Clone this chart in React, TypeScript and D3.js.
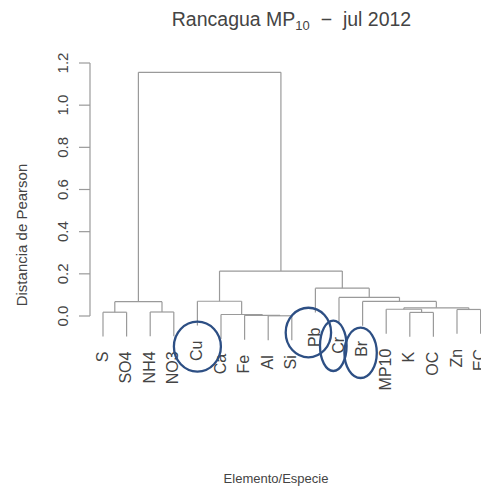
import React from "react";
import * as d3 from "d3";

// ---- data ----
const leafLabels = ["S", "SO4", "NH4", "NO3", "Cu", "Ca", "Fe", "Al", "Si", "Pb", "Cr", "Br", "MP10", "K", "OC", "Zn", "EC"];
// hclust-style merge matrix: negative = leaf (1-based), positive = earlier merge row (1-based)
const mergeLeft = [-8, -7, -6, -14, -1, -3, -13, -16, 7, 5, -12, -5, -11, -10, 12, 10];
const mergeRight = [-9, 1, 2, -15, -2, -4, 4, -17, 8, 6, 9, 3, 11, 13, 14, 15];
const mergeHeights = [0.001, 0.003, 0.007, 0.017, 0.018, 0.019, 0.032, 0.031, 0.039, 0.068, 0.069, 0.07, 0.088, 0.132, 0.213, 1.156];
const yTicks = [0, 0.2, 0.4, 0.6, 0.8, 1.0, 1.2];
const circledLabels = ["Cu", "Pb", "Cr", "Br"];

const W = 481;
const H = 487;
const HANG = 0.1;

export default function App() {
  const x = d3.scalePoint<string>().domain(leafLabels).range([103, 480.6]);
  const y = d3.scaleLinear().domain([0, 1.2]).range([316, 63]);
  const maxH = d3.max(mergeHeights) as number;

  // compute node x positions
  const nodeX: number[] = [];
  const childX = (c: number) => (c < 0 ? (x(leafLabels[-c - 1]) as number) : nodeX[c - 1]);
  mergeLeft.forEach((l, i) => {
    nodeX[i] = (childX(l) + childX(mergeRight[i])) / 2;
  });

  const segs: { x1: number; y1: number; x2: number; y2: number }[] = [];
  const leafEnds: { label: string; x: number; yEnd: number }[] = [];
  mergeLeft.forEach((l, i) => {
    const r = mergeRight[i];
    const h = mergeHeights[i];
    const yN = y(h);
    const xl = childX(l);
    const xr = childX(r);
    segs.push({ x1: xl, y1: yN, x2: xr, y2: yN });
    [l, r].forEach((c) => {
      const cx = childX(c);
      let yc: number;
      if (c < 0) {
        yc = y(h - HANG * maxH);
        leafEnds.push({ label: leafLabels[-c - 1], x: cx, yEnd: yc });
      } else {
        yc = y(mergeHeights[c - 1]);
      }
      segs.push({ x1: cx, y1: yN, x2: cx, y2: yc });
    });
  });

  const fmt = d3.format(".1f");
  const font = "'Liberation Sans', Arimo, Helvetica, Arial, sans-serif";
  const textCol = "#444";
  const lineCol = "#9a9a9a";

  const ellipseSpec: Record<string, { dx: number; dy: number; rx: number; ry: number }> = {
    Cu: { dx: 0, dy: 21, rx: 23.5, ry: 25 },
    Pb: { dx: -7, dy: 20, rx: 22.7, ry: 24.8 },
    Cr: { dx: -5.7, dy: 24, rx: 13.3, ry: 25.2 },
    Br: { dx: -2, dy: 27, rx: 16.2, ry: 25.2 },
  };

  return (
    <svg width={W} height={H} style={{ position: "absolute", left: 0, top: 0, background: "#fff" }} fontFamily={font}>
      <rect x={0} y={0} width={W} height={H} fill="#fff" />
      {/* title */}
      <text x={291.5} y={26} textAnchor="middle" fontSize={19.5} fill={textCol} style={{ whiteSpace: "pre" }}>
        Rancagua MP
        <tspan fontSize={13} dy={4}>10</tspan>
        <tspan dy={-4}>{"  \u2212  jul 2012"}</tspan>
      </text>

      {/* y axis */}
      <line x1={90} x2={90} y1={y(yTicks[0])} y2={y(yTicks[yTicks.length - 1])} stroke={lineCol} strokeWidth={1.2} />
      {yTicks.map((t) => (
        <g key={t}>
          <line x1={79} x2={90} y1={y(t)} y2={y(t)} stroke={lineCol} strokeWidth={1.2} />
          <text
            transform={`translate(68,${y(t)}) rotate(-90)`}
            textAnchor="middle"
            fontSize={15}
            fill={textCol}
          >
            {fmt(t)}
          </text>
        </g>
      ))}
      <text transform={`translate(27,235) rotate(-90)`} textAnchor="middle" fontSize={15} fill={textCol}>
        Distancia de Pearson
      </text>

      {/* dendrogram */}
      {segs.map((s, i) => (
        <line key={i} x1={s.x1} y1={s.y1} x2={s.x2} y2={s.y2} stroke={lineCol} strokeWidth={1.2} />
      ))}

      {/* leaf labels */}
      {leafEnds.map((d) => (
        <text
          key={d.label}
          transform={`translate(${d.x + 4.5},${d.yEnd + 15}) rotate(-90)`}
          textAnchor="end"
          fontSize={16}
          fill={textCol}
        >
          {d.label}
        </text>
      ))}

      {/* annotation ellipses */}
      {leafEnds
        .filter((d) => circledLabels.includes(d.label))
        .map((d) => {
          const e = ellipseSpec[d.label];
          return (
            <ellipse
              key={"e" + d.label}
              cx={d.x + e.dx}
              cy={d.yEnd + e.dy}
              rx={e.rx}
              ry={e.ry}
              fill="none"
              stroke="#2d4f84"
              strokeWidth={2.3}
            />
          );
        })}

      {/* x label */}
      <text x={276} y={483} textAnchor="middle" fontSize={13} fill={textCol}>
        Elemento/Especie
      </text>
    </svg>
  );
}
